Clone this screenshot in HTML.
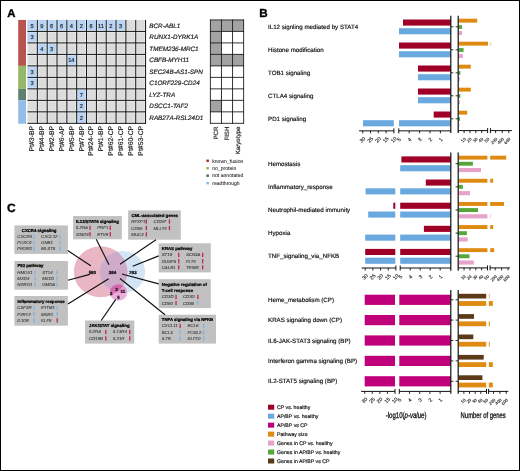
<!DOCTYPE html>
<html><head><meta charset="utf-8"><title>Figure</title>
<style>
html,body{margin:0;padding:0;background:#fff;}
body{width:520px;height:471px;overflow:hidden;position:relative;}
svg{position:absolute;left:0;top:0;display:block;}
svg text{font-family:"Liberation Sans",sans-serif;text-rendering:geometricPrecision;}
.t{stroke:#000;stroke-width:0.22px;}
.ax{stroke:#1a1a1a;stroke-width:0.12px;}
.lb{stroke:#1a1a1a;stroke-width:0.18px;}
.pl{stroke:#000;stroke-width:0.35px;}
.nm{stroke:#2c3648;stroke-width:0.22px;}
.la{stroke:#222;stroke-width:0.07px;}
.g{stroke:#333;stroke-width:0.08px;}
.b{font-weight:bold;}
.i{font-style:italic;}
</style></head><body>
<svg width="520" height="471" viewBox="0 0 520 471">
<rect x="0.00" y="0.00" width="520.00" height="471.00" fill="#fff" />
<defs><filter id="soft" x="0" y="0" width="520" height="471" filterUnits="userSpaceOnUse" color-interpolation-filters="sRGB"><feGaussianBlur stdDeviation="0.38"/></filter></defs>
<g filter="url(#soft)">
<rect x="0.00" y="0.00" width="520.00" height="471.00" fill="#fff" />
<text x="7.20" y="16.90" font-size="11.4" class="b pl" text-anchor="start" fill="#000" >A</text>
<rect x="18.20" y="19.93" width="7.80" height="45.96" fill="#b85450" />
<rect x="18.20" y="65.89" width="7.80" height="22.98" fill="#94b866" />
<rect x="18.20" y="88.87" width="7.80" height="11.49" fill="#5f8070" />
<rect x="18.20" y="100.36" width="7.80" height="23.38" fill="#94bee9" />
<rect x="27.50" y="19.93" width="118.08" height="103.41" fill="#dcdcdc" />
<rect x="27.50" y="19.93" width="9.84" height="11.49" fill="#b9d4f3" />
<rect x="37.34" y="19.93" width="9.84" height="11.49" fill="#b9d4f3" />
<rect x="47.18" y="19.93" width="9.84" height="11.49" fill="#b9d4f3" />
<rect x="57.02" y="19.93" width="9.84" height="11.49" fill="#b9d4f3" />
<rect x="66.86" y="19.93" width="9.84" height="11.49" fill="#b9d4f3" />
<rect x="76.70" y="19.93" width="9.84" height="11.49" fill="#b9d4f3" />
<rect x="86.54" y="19.93" width="9.84" height="11.49" fill="#b9d4f3" />
<rect x="96.38" y="19.93" width="9.84" height="11.49" fill="#b9d4f3" />
<rect x="106.22" y="19.93" width="9.84" height="11.49" fill="#b9d4f3" />
<rect x="116.06" y="19.93" width="9.84" height="11.49" fill="#b9d4f3" />
<rect x="27.50" y="31.42" width="9.84" height="11.49" fill="#b9d4f3" />
<rect x="37.34" y="42.91" width="9.84" height="11.49" fill="#b9d4f3" />
<rect x="47.18" y="42.91" width="9.84" height="11.49" fill="#b9d4f3" />
<rect x="66.86" y="54.40" width="9.84" height="11.49" fill="#b9d4f3" />
<rect x="27.50" y="65.89" width="9.84" height="11.49" fill="#b9d4f3" />
<rect x="27.50" y="77.38" width="9.84" height="11.49" fill="#b9d4f3" />
<rect x="76.70" y="88.87" width="9.84" height="11.49" fill="#b9d4f3" />
<rect x="76.70" y="100.36" width="9.84" height="11.49" fill="#b9d4f3" />
<rect x="76.70" y="111.85" width="9.84" height="11.49" fill="#b9d4f3" />
<line x1="37.34" y1="19.93" x2="37.34" y2="123.34" stroke="#fff" stroke-width="2.6" stroke-opacity="0.42"/>
<line x1="47.18" y1="19.93" x2="47.18" y2="123.34" stroke="#fff" stroke-width="2.6" stroke-opacity="0.42"/>
<line x1="57.02" y1="19.93" x2="57.02" y2="123.34" stroke="#fff" stroke-width="2.6" stroke-opacity="0.42"/>
<line x1="66.86" y1="19.93" x2="66.86" y2="123.34" stroke="#fff" stroke-width="2.6" stroke-opacity="0.42"/>
<line x1="76.70" y1="19.93" x2="76.70" y2="123.34" stroke="#fff" stroke-width="2.6" stroke-opacity="0.42"/>
<line x1="86.54" y1="19.93" x2="86.54" y2="123.34" stroke="#fff" stroke-width="2.6" stroke-opacity="0.42"/>
<line x1="96.38" y1="19.93" x2="96.38" y2="123.34" stroke="#fff" stroke-width="2.6" stroke-opacity="0.42"/>
<line x1="106.22" y1="19.93" x2="106.22" y2="123.34" stroke="#fff" stroke-width="2.6" stroke-opacity="0.42"/>
<line x1="116.06" y1="19.93" x2="116.06" y2="123.34" stroke="#fff" stroke-width="2.6" stroke-opacity="0.42"/>
<line x1="125.90" y1="19.93" x2="125.90" y2="123.34" stroke="#fff" stroke-width="2.6" stroke-opacity="0.42"/>
<line x1="135.74" y1="19.93" x2="135.74" y2="123.34" stroke="#fff" stroke-width="2.6" stroke-opacity="0.42"/>
<line x1="145.58" y1="19.93" x2="145.58" y2="123.34" stroke="#fff" stroke-width="2.6" stroke-opacity="0.42"/>
<line x1="27.50" y1="31.42" x2="145.58" y2="31.42" stroke="#fff" stroke-width="2.6" stroke-opacity="0.42"/>
<line x1="27.50" y1="42.91" x2="145.58" y2="42.91" stroke="#fff" stroke-width="2.6" stroke-opacity="0.42"/>
<line x1="27.50" y1="54.40" x2="145.58" y2="54.40" stroke="#fff" stroke-width="2.6" stroke-opacity="0.42"/>
<line x1="27.50" y1="65.89" x2="145.58" y2="65.89" stroke="#fff" stroke-width="2.6" stroke-opacity="0.42"/>
<line x1="27.50" y1="77.38" x2="145.58" y2="77.38" stroke="#fff" stroke-width="2.6" stroke-opacity="0.42"/>
<line x1="27.50" y1="88.87" x2="145.58" y2="88.87" stroke="#fff" stroke-width="2.6" stroke-opacity="0.42"/>
<line x1="27.50" y1="100.36" x2="145.58" y2="100.36" stroke="#fff" stroke-width="2.6" stroke-opacity="0.42"/>
<line x1="27.50" y1="111.85" x2="145.58" y2="111.85" stroke="#fff" stroke-width="2.6" stroke-opacity="0.42"/>
<line x1="27.50" y1="123.34" x2="145.58" y2="123.34" stroke="#fff" stroke-width="2.6" stroke-opacity="0.42"/>
<line x1="37.34" y1="19.93" x2="37.34" y2="123.74" stroke="#111" stroke-width="1.0" />
<line x1="47.18" y1="19.93" x2="47.18" y2="123.74" stroke="#111" stroke-width="1.0" />
<line x1="57.02" y1="19.93" x2="57.02" y2="123.74" stroke="#111" stroke-width="1.0" />
<line x1="66.86" y1="19.93" x2="66.86" y2="123.74" stroke="#111" stroke-width="1.0" />
<line x1="76.70" y1="19.93" x2="76.70" y2="123.74" stroke="#111" stroke-width="1.0" />
<line x1="86.54" y1="19.93" x2="86.54" y2="123.74" stroke="#111" stroke-width="1.0" />
<line x1="96.38" y1="19.93" x2="96.38" y2="123.74" stroke="#111" stroke-width="1.0" />
<line x1="106.22" y1="19.93" x2="106.22" y2="123.74" stroke="#111" stroke-width="1.0" />
<line x1="116.06" y1="19.93" x2="116.06" y2="123.74" stroke="#111" stroke-width="1.0" />
<line x1="125.90" y1="19.93" x2="125.90" y2="123.74" stroke="#111" stroke-width="1.0" />
<line x1="135.74" y1="19.93" x2="135.74" y2="123.74" stroke="#111" stroke-width="1.0" />
<line x1="145.58" y1="19.93" x2="145.58" y2="123.74" stroke="#111" stroke-width="1.0" />
<line x1="27.50" y1="31.42" x2="145.98" y2="31.42" stroke="#111" stroke-width="1.0" />
<line x1="27.50" y1="42.91" x2="145.98" y2="42.91" stroke="#111" stroke-width="1.0" />
<line x1="27.50" y1="54.40" x2="145.98" y2="54.40" stroke="#111" stroke-width="1.0" />
<line x1="27.50" y1="65.89" x2="145.98" y2="65.89" stroke="#111" stroke-width="1.0" />
<line x1="27.50" y1="77.38" x2="145.98" y2="77.38" stroke="#111" stroke-width="1.0" />
<line x1="27.50" y1="88.87" x2="145.98" y2="88.87" stroke="#111" stroke-width="1.0" />
<line x1="27.50" y1="100.36" x2="145.98" y2="100.36" stroke="#111" stroke-width="1.0" />
<line x1="27.50" y1="111.85" x2="145.98" y2="111.85" stroke="#111" stroke-width="1.0" />
<line x1="27.50" y1="123.34" x2="145.98" y2="123.34" stroke="#111" stroke-width="1.0" />
<text x="32.02" y="27.57" font-size="5.7" class="nm" text-anchor="middle" fill="#2c3648" >5</text>
<text x="41.86" y="27.57" font-size="5.7" class="nm" text-anchor="middle" fill="#2c3648" >9</text>
<text x="51.70" y="27.57" font-size="5.7" class="nm" text-anchor="middle" fill="#2c3648" >6</text>
<text x="61.54" y="27.57" font-size="5.7" class="nm" text-anchor="middle" fill="#2c3648" >6</text>
<text x="71.38" y="27.57" font-size="5.7" class="nm" text-anchor="middle" fill="#2c3648" >4</text>
<text x="81.22" y="27.57" font-size="5.7" class="nm" text-anchor="middle" fill="#2c3648" >2</text>
<text x="91.06" y="27.57" font-size="5.7" class="nm" text-anchor="middle" fill="#2c3648" >6</text>
<text x="100.90" y="27.57" font-size="5.7" class="nm" text-anchor="middle" fill="#2c3648" >11</text>
<text x="110.74" y="27.57" font-size="5.7" class="nm" text-anchor="middle" fill="#2c3648" >2</text>
<text x="120.58" y="27.57" font-size="5.7" class="nm" text-anchor="middle" fill="#2c3648" >3</text>
<text x="32.02" y="39.06" font-size="5.7" class="nm" text-anchor="middle" fill="#2c3648" >3</text>
<text x="41.86" y="50.55" font-size="5.7" class="nm" text-anchor="middle" fill="#2c3648" >4</text>
<text x="51.70" y="50.55" font-size="5.7" class="nm" text-anchor="middle" fill="#2c3648" >3</text>
<text x="71.38" y="62.04" font-size="5.7" class="nm" text-anchor="middle" fill="#2c3648" >14</text>
<text x="32.02" y="73.54" font-size="5.7" class="nm" text-anchor="middle" fill="#2c3648" >3</text>
<text x="32.02" y="85.03" font-size="5.7" class="nm" text-anchor="middle" fill="#2c3648" >3</text>
<text x="81.22" y="96.52" font-size="5.7" class="nm" text-anchor="middle" fill="#2c3648" >7</text>
<text x="81.22" y="108.01" font-size="5.7" class="nm" text-anchor="middle" fill="#2c3648" >2</text>
<text x="81.22" y="119.50" font-size="5.7" class="nm" text-anchor="middle" fill="#2c3648" >2</text>
<text x="149.30" y="27.78" font-size="6.35" class="i lb" text-anchor="start" fill="#1a1a1a" >BCR-ABL1</text>
<text x="149.30" y="39.27" font-size="6.35" class="i lb" text-anchor="start" fill="#1a1a1a" >RUNX1-DYRK1A</text>
<text x="149.30" y="50.75" font-size="6.35" class="i lb" text-anchor="start" fill="#1a1a1a" >TMEM236-MRC1</text>
<text x="149.30" y="62.24" font-size="6.35" class="i lb" text-anchor="start" fill="#1a1a1a" >CBFB-MYH11</text>
<text x="149.30" y="73.73" font-size="6.35" class="i lb" text-anchor="start" fill="#1a1a1a" >SEC24B-AS1-SPN</text>
<text x="149.30" y="85.22" font-size="6.35" class="i lb" text-anchor="start" fill="#1a1a1a" >C1ORF229-CD24</text>
<text x="149.30" y="96.72" font-size="6.35" class="i lb" text-anchor="start" fill="#1a1a1a" >LYZ-TRA</text>
<text x="149.30" y="108.21" font-size="6.35" class="i lb" text-anchor="start" fill="#1a1a1a" >DSCC1-TAF2</text>
<text x="149.30" y="119.69" font-size="6.35" class="i lb" text-anchor="start" fill="#1a1a1a" >RAB27A-RSL24D1</text>
<text transform="translate(34.42,125.80) rotate(-90)" font-size="6.9" class="lb" text-anchor="end" fill="#2a2a2a">Pt#3-BP</text>
<text transform="translate(44.26,125.80) rotate(-90)" font-size="6.9" class="lb" text-anchor="end" fill="#2a2a2a">Pt#4-BP</text>
<text transform="translate(54.10,125.80) rotate(-90)" font-size="6.9" class="lb" text-anchor="end" fill="#2a2a2a">Pt#2-BP</text>
<text transform="translate(63.94,125.80) rotate(-90)" font-size="6.9" class="lb" text-anchor="end" fill="#2a2a2a">Pt#6-AP</text>
<text transform="translate(73.78,125.80) rotate(-90)" font-size="6.9" class="lb" text-anchor="end" fill="#2a2a2a">Pt#5-BP</text>
<text transform="translate(83.62,125.80) rotate(-90)" font-size="6.9" class="lb" text-anchor="end" fill="#2a2a2a">Pt#7-BP</text>
<text transform="translate(93.46,125.80) rotate(-90)" font-size="6.9" class="lb" text-anchor="end" fill="#2a2a2a">Pt#24-CP</text>
<text transform="translate(103.30,125.80) rotate(-90)" font-size="6.9" class="lb" text-anchor="end" fill="#2a2a2a">Pt#1-BP</text>
<text transform="translate(113.14,125.80) rotate(-90)" font-size="6.9" class="lb" text-anchor="end" fill="#2a2a2a">Pt#62-CP</text>
<text transform="translate(122.98,125.80) rotate(-90)" font-size="6.9" class="lb" text-anchor="end" fill="#2a2a2a">Pt#61-CP</text>
<text transform="translate(132.82,125.80) rotate(-90)" font-size="6.9" class="lb" text-anchor="end" fill="#2a2a2a">Pt#60-CP</text>
<text transform="translate(142.66,125.80) rotate(-90)" font-size="6.9" class="lb" text-anchor="end" fill="#2a2a2a">Pt#53-CP</text>
<rect x="210.40" y="19.93" width="11.07" height="11.49" fill="#a3a3a3" />
<rect x="221.47" y="19.93" width="11.07" height="11.49" fill="#a3a3a3" />
<rect x="232.54" y="19.93" width="11.07" height="11.49" fill="#a3a3a3" />
<rect x="210.40" y="31.42" width="11.07" height="11.49" fill="#a3a3a3" />
<rect x="210.40" y="42.91" width="11.07" height="11.49" fill="#a3a3a3" />
<rect x="210.40" y="54.40" width="11.07" height="11.49" fill="#a3a3a3" />
<rect x="221.47" y="54.40" width="11.07" height="11.49" fill="#a3a3a3" />
<rect x="232.54" y="54.40" width="11.07" height="11.49" fill="#a3a3a3" />
<rect x="210.40" y="100.36" width="11.07" height="11.49" fill="#a3a3a3" />
<line x1="210.40" y1="19.53" x2="210.40" y2="123.74" stroke="#111" stroke-width="0.85" />
<line x1="221.47" y1="19.53" x2="221.47" y2="123.74" stroke="#111" stroke-width="0.85" />
<line x1="232.54" y1="19.53" x2="232.54" y2="123.74" stroke="#111" stroke-width="0.85" />
<line x1="243.61" y1="19.53" x2="243.61" y2="123.74" stroke="#111" stroke-width="0.85" />
<line x1="210.00" y1="19.93" x2="244.01" y2="19.93" stroke="#111" stroke-width="0.85" />
<line x1="210.00" y1="31.42" x2="244.01" y2="31.42" stroke="#111" stroke-width="0.85" />
<line x1="210.00" y1="42.91" x2="244.01" y2="42.91" stroke="#111" stroke-width="0.85" />
<line x1="210.00" y1="54.40" x2="244.01" y2="54.40" stroke="#111" stroke-width="0.85" />
<line x1="210.00" y1="65.89" x2="244.01" y2="65.89" stroke="#111" stroke-width="0.85" />
<line x1="210.00" y1="77.38" x2="244.01" y2="77.38" stroke="#111" stroke-width="0.85" />
<line x1="210.00" y1="88.87" x2="244.01" y2="88.87" stroke="#111" stroke-width="0.85" />
<line x1="210.00" y1="100.36" x2="244.01" y2="100.36" stroke="#111" stroke-width="0.85" />
<line x1="210.00" y1="111.85" x2="244.01" y2="111.85" stroke="#111" stroke-width="0.85" />
<line x1="210.00" y1="123.34" x2="244.01" y2="123.34" stroke="#111" stroke-width="0.85" />
<text transform="translate(217.94,126.60) rotate(-90)" font-size="6.15" class="lb" text-anchor="end" fill="#2a2a2a">PCR</text>
<text transform="translate(229.00,126.60) rotate(-90)" font-size="6.15" class="lb" text-anchor="end" fill="#2a2a2a">FISH</text>
<text transform="translate(240.08,126.60) rotate(-90)" font-size="6.15" class="lb" text-anchor="end" fill="#2a2a2a">Karyotype</text>
<rect x="206.40" y="159.60" width="2.50" height="2.40" fill="#b02a30" />
<text x="212.20" y="162.50" font-size="5.1" class="la" text-anchor="start" fill="#222" >known_fusion</text>
<rect x="206.40" y="167.05" width="2.50" height="2.40" fill="#86b84c" />
<text x="212.20" y="169.95" font-size="5.1" class="la" text-anchor="start" fill="#222" >no_protein</text>
<rect x="206.40" y="174.50" width="2.50" height="2.40" fill="#3f6a52" />
<text x="212.20" y="177.40" font-size="5.1" class="la" text-anchor="start" fill="#222" >not annotated</text>
<rect x="206.40" y="181.95" width="2.50" height="2.40" fill="#86bdf0" />
<text x="212.20" y="184.85" font-size="5.1" class="la" text-anchor="start" fill="#222" >readthrough</text>
<text x="7.10" y="211.50" font-size="12.0" class="b pl" text-anchor="start" fill="#000" >C</text>
<ellipse cx="100.65" cy="271.7" rx="26.85" ry="25.5" fill="#e9b7c4"/>
<ellipse cx="122.3" cy="272.05" rx="22.9" ry="21.05" fill="#d3e4f5"/>
<clipPath id="cpB"><ellipse cx="122.3" cy="272.05" rx="22.9" ry="21.05"/></clipPath>
<clipPath id="cpP"><ellipse cx="100.65" cy="271.7" rx="26.85" ry="25.5"/></clipPath>
<ellipse cx="100.65" cy="271.7" rx="26.85" ry="25.5" fill="#cdabc9" clip-path="url(#cpB)"/>
<ellipse cx="118.45" cy="292.55" rx="8.75" ry="8.15" fill="#eeaedb"/>
<ellipse cx="118.45" cy="292.55" rx="8.75" ry="8.15" fill="#e79ccf" clip-path="url(#cpB)"/>
<ellipse cx="118.45" cy="292.55" rx="8.75" ry="8.15" fill="#e182bd" clip-path="url(#cpP)"/>
<g clip-path="url(#cpP)"><ellipse cx="118.45" cy="292.55" rx="8.75" ry="8.15" fill="#d266ac" clip-path="url(#cpB)"/></g>
<rect x="14.40" y="225.40" width="53.50" height="28.50" fill="#c1c1c1" />
<text x="21.80" y="231.90" font-size="4.3" class="b t" text-anchor="start" fill="#000" >CXCR4 signaling</text>
<text x="17.30" y="238.35" font-size="4.35" class="i g" text-anchor="start" fill="#333" >CXCR4</text>
<rect x="33.30" y="234.70" width="1.30" height="4.30" fill="#7db4e6" />
<text x="41.10" y="238.35" font-size="4.35" class="i g" text-anchor="start" fill="#333" >CXCL12</text>
<rect x="59.30" y="234.70" width="1.30" height="4.30" fill="#7db4e6" />
<text x="17.30" y="244.45" font-size="4.35" class="i g" text-anchor="start" fill="#333" >FOXO1</text>
<rect x="33.30" y="240.80" width="1.30" height="4.30" fill="#7db4e6" />
<text x="41.10" y="244.45" font-size="4.35" class="i g" text-anchor="start" fill="#333" >GNB1</text>
<rect x="59.30" y="240.80" width="1.30" height="4.30" fill="#7db4e6" />
<text x="17.30" y="250.45" font-size="4.35" class="i g" text-anchor="start" fill="#333" >PIK3R1</text>
<rect x="33.30" y="246.80" width="1.30" height="4.30" fill="#7db4e6" />
<text x="41.10" y="250.45" font-size="4.35" class="i g" text-anchor="start" fill="#333" >MLST8</text>
<rect x="59.30" y="246.80" width="1.30" height="4.30" fill="#7db4e6" />
<rect x="14.40" y="261.00" width="53.50" height="28.70" fill="#c1c1c1" />
<text x="17.40" y="267.30" font-size="4.3" class="b t" text-anchor="start" fill="#000" >P53 pathway</text>
<text x="17.30" y="273.75" font-size="4.35" class="i g" text-anchor="start" fill="#333" >HMOX1</text>
<rect x="34.40" y="270.10" width="1.30" height="4.30" fill="#7db4e6" />
<text x="42.20" y="273.75" font-size="4.35" class="i g" text-anchor="start" fill="#333" >ST14</text>
<rect x="56.50" y="270.10" width="1.30" height="4.30" fill="#7db4e6" />
<text x="17.30" y="280.05" font-size="4.35" class="i g" text-anchor="start" fill="#333" >MXD4</text>
<rect x="34.40" y="276.40" width="1.30" height="4.30" fill="#7db4e6" />
<text x="42.20" y="280.05" font-size="4.35" class="i g" text-anchor="start" fill="#333" >MXD1</text>
<rect x="56.50" y="276.40" width="1.30" height="4.30" fill="#7db4e6" />
<text x="17.30" y="286.15" font-size="4.35" class="i g" text-anchor="start" fill="#333" >NDRG1</text>
<rect x="34.40" y="282.50" width="1.30" height="4.30" fill="#7db4e6" />
<text x="42.20" y="286.15" font-size="4.35" class="i g" text-anchor="start" fill="#333" >GMDA</text>
<rect x="56.50" y="282.50" width="1.30" height="4.30" fill="#7db4e6" />
<rect x="14.40" y="296.00" width="53.50" height="29.70" fill="#c1c1c1" />
<text x="17.40" y="303.20" font-size="4.3" class="b t" text-anchor="start" fill="#000" >Inflammatory response</text>
<text x="17.30" y="309.35" font-size="4.35" class="i g" text-anchor="start" fill="#333" >CSF3R</text>
<rect x="33.30" y="305.70" width="1.30" height="4.30" fill="#7db4e6" />
<text x="41.10" y="309.35" font-size="4.35" class="i g" text-anchor="start" fill="#333" >IFITM1</text>
<rect x="56.50" y="305.70" width="1.30" height="4.30" fill="#7db4e6" />
<text x="17.30" y="315.55" font-size="4.35" class="i g" text-anchor="start" fill="#333" >P2RY2</text>
<rect x="33.30" y="311.90" width="1.30" height="4.30" fill="#7db4e6" />
<text x="41.10" y="315.55" font-size="4.35" class="i g" text-anchor="start" fill="#333" >MSR1</text>
<rect x="56.50" y="311.90" width="1.30" height="4.30" fill="#7db4e6" />
<text x="17.30" y="321.85" font-size="4.35" class="i g" text-anchor="start" fill="#333" >IL10R</text>
<rect x="33.30" y="318.20" width="1.30" height="4.30" fill="#7db4e6" />
<text x="41.10" y="321.85" font-size="4.35" class="i g" text-anchor="start" fill="#333" >KLF6</text>
<rect x="56.50" y="318.20" width="1.30" height="4.30" fill="#c22a4a" />
<rect x="73.10" y="216.00" width="48.70" height="23.30" fill="#c1c1c1" />
<text x="76.00" y="222.90" font-size="4.3" class="b t" text-anchor="start" fill="#000" >IL12/STAT4 signaling</text>
<text x="75.90" y="229.35" font-size="4.35" class="i g" text-anchor="start" fill="#333" >IL2RA</text>
<rect x="89.40" y="225.70" width="1.30" height="4.30" fill="#c22a4a" />
<text x="97.20" y="229.35" font-size="4.35" class="i g" text-anchor="start" fill="#333" >PRF1</text>
<rect x="109.60" y="225.70" width="1.30" height="4.30" fill="#c22a4a" />
<text x="75.90" y="235.75" font-size="4.35" class="i g" text-anchor="start" fill="#333" >STAT4</text>
<rect x="89.40" y="232.10" width="1.30" height="4.30" fill="#c22a4a" />
<text x="97.20" y="235.75" font-size="4.35" class="i g" text-anchor="start" fill="#333" >ETV5</text>
<rect x="109.60" y="232.10" width="1.30" height="4.30" fill="#c22a4a" />
<rect x="128.10" y="210.40" width="52.70" height="29.30" fill="#c1c1c1" />
<text x="131.40" y="217.20" font-size="4.3" class="b t" text-anchor="start" fill="#000" >CML-associated genes</text>
<text x="131.30" y="223.05" font-size="4.35" class="i g" text-anchor="start" fill="#333" >RFXP1</text>
<rect x="145.70" y="219.40" width="1.30" height="4.30" fill="#c22a4a" />
<text x="153.50" y="223.05" font-size="4.35" class="i g" text-anchor="start" fill="#333" >CD26*</text>
<rect x="168.80" y="219.40" width="1.30" height="4.30" fill="#c22a4a" />
<text x="131.30" y="229.55" font-size="4.35" class="i g" text-anchor="start" fill="#333" >CD69</text>
<rect x="145.70" y="225.90" width="1.30" height="4.30" fill="#c22a4a" />
<text x="153.50" y="229.55" font-size="4.35" class="i g" text-anchor="start" fill="#333" >MLLT4</text>
<rect x="168.80" y="225.90" width="1.30" height="4.30" fill="#c22a4a" />
<text x="131.30" y="235.85" font-size="4.35" class="i g" text-anchor="start" fill="#333" >MUC4</text>
<rect x="145.70" y="232.20" width="1.30" height="4.30" fill="#c22a4a" />
<rect x="158.70" y="243.30" width="52.10" height="29.10" fill="#c1c1c1" />
<text x="161.80" y="250.00" font-size="4.3" class="b t" text-anchor="start" fill="#000" >KRAS pathway</text>
<text x="161.70" y="256.45" font-size="4.35" class="i g" text-anchor="start" fill="#333" >ST18</text>
<rect x="178.10" y="252.80" width="1.30" height="4.30" fill="#c22a4a" />
<text x="185.90" y="256.45" font-size="4.35" class="i g" text-anchor="start" fill="#333" >SCN3A</text>
<rect x="202.00" y="252.80" width="1.30" height="4.30" fill="#c22a4a" />
<text x="161.70" y="262.75" font-size="4.35" class="i g" text-anchor="start" fill="#333" >DUSP6</text>
<rect x="178.10" y="259.10" width="1.30" height="4.30" fill="#c22a4a" />
<text x="185.90" y="262.75" font-size="4.35" class="i g" text-anchor="start" fill="#333" >FLT4</text>
<rect x="202.00" y="259.10" width="1.30" height="4.30" fill="#c22a4a" />
<text x="161.70" y="268.85" font-size="4.35" class="i g" text-anchor="start" fill="#333" >CALB1</text>
<rect x="178.10" y="265.20" width="1.30" height="4.30" fill="#c22a4a" />
<text x="185.90" y="268.85" font-size="4.35" class="i g" text-anchor="start" fill="#333" >TRIM2</text>
<rect x="202.00" y="265.20" width="1.30" height="4.30" fill="#c22a4a" />
<rect x="158.70" y="279.20" width="52.10" height="28.90" fill="#c1c1c1" />
<text x="161.80" y="285.60" font-size="4.3" class="b t" text-anchor="start" fill="#000" >Negative regulation of</text>
<text x="161.80" y="292.10" font-size="4.3" class="b t" text-anchor="start" fill="#000" >T-cell response</text>
<text x="161.70" y="298.45" font-size="4.35" class="i g" text-anchor="start" fill="#333" >CD3D</text>
<rect x="175.40" y="294.80" width="1.30" height="4.30" fill="#c22a4a" />
<text x="182.90" y="298.45" font-size="4.35" class="i g" text-anchor="start" fill="#333" >CD3G</text>
<rect x="197.20" y="294.80" width="1.30" height="4.30" fill="#c22a4a" />
<text x="161.70" y="304.55" font-size="4.35" class="i g" text-anchor="start" fill="#333" >CD80</text>
<rect x="175.40" y="300.90" width="1.30" height="4.30" fill="#c22a4a" />
<text x="182.90" y="304.55" font-size="4.35" class="i g" text-anchor="start" fill="#333" >CD86</text>
<rect x="197.20" y="300.90" width="1.30" height="4.30" fill="#7db4e6" />
<rect x="158.70" y="314.70" width="57.30" height="28.90" fill="#c1c1c1" />
<text x="161.80" y="321.30" font-size="4.3" class="b t" text-anchor="start" fill="#000" >TNFA signaling via NFKB</text>
<text x="161.70" y="327.45" font-size="4.35" class="i g" text-anchor="start" fill="#333" >CXCL11</text>
<rect x="179.50" y="323.80" width="1.30" height="4.30" fill="#c22a4a" />
<text x="187.60" y="327.45" font-size="4.35" class="i g" text-anchor="start" fill="#333" >BCL6</text>
<rect x="203.00" y="323.80" width="1.30" height="4.30" fill="#7db4e6" />
<text x="161.70" y="333.85" font-size="4.35" class="i g" text-anchor="start" fill="#333" >BCL3</text>
<rect x="179.50" y="330.20" width="1.30" height="4.30" fill="#7db4e6" />
<text x="187.60" y="333.85" font-size="4.35" class="i g" text-anchor="start" fill="#333" >FOSL2</text>
<rect x="203.00" y="330.20" width="1.30" height="4.30" fill="#7db4e6" />
<text x="161.70" y="339.95" font-size="4.35" class="i g" text-anchor="start" fill="#333" >IL7R</text>
<rect x="179.50" y="336.30" width="1.30" height="4.30" fill="#7db4e6" />
<text x="187.60" y="339.95" font-size="4.35" class="i g" text-anchor="start" fill="#333" >KLF10</text>
<rect x="203.00" y="336.30" width="1.30" height="4.30" fill="#7db4e6" />
<rect x="85.10" y="320.50" width="49.20" height="23.10" fill="#c1c1c1" />
<text x="89.10" y="327.40" font-size="4.3" class="b t" text-anchor="start" fill="#000" >JAK/STAT signaling</text>
<text x="89.00" y="333.45" font-size="4.35" class="i g" text-anchor="start" fill="#333" >IL2RA</text>
<rect x="105.10" y="329.80" width="1.30" height="4.30" fill="#c22a4a" />
<text x="112.90" y="333.45" font-size="4.35" class="i g" text-anchor="start" fill="#333" >IL13R4</text>
<rect x="129.10" y="329.80" width="1.30" height="4.30" fill="#c22a4a" />
<text x="89.00" y="339.85" font-size="4.35" class="i g" text-anchor="start" fill="#333" >CD19B</text>
<rect x="105.10" y="336.20" width="1.30" height="4.30" fill="#c22a4a" />
<text x="112.90" y="339.85" font-size="4.35" class="i g" text-anchor="start" fill="#333" >IL21R</text>
<rect x="129.10" y="336.20" width="1.30" height="4.30" fill="#c22a4a" />
<line x1="67.70" y1="250.60" x2="90.80" y2="265.80" stroke="#111" stroke-width="1.15" />
<line x1="96.30" y1="239.30" x2="109.00" y2="264.80" stroke="#111" stroke-width="1.15" />
<line x1="156.00" y1="239.70" x2="120.00" y2="264.20" stroke="#111" stroke-width="1.15" />
<line x1="158.70" y1="255.90" x2="132.70" y2="266.30" stroke="#111" stroke-width="1.15" />
<line x1="158.70" y1="283.90" x2="121.90" y2="274.00" stroke="#111" stroke-width="1.15" />
<line x1="165.00" y1="314.70" x2="120.00" y2="278.50" stroke="#111" stroke-width="1.15" />
<line x1="67.90" y1="280.20" x2="89.80" y2="274.40" stroke="#111" stroke-width="1.15" />
<line x1="67.90" y1="304.10" x2="108.70" y2="278.80" stroke="#111" stroke-width="1.15" />
<line x1="101.20" y1="320.50" x2="115.80" y2="299.40" stroke="#111" stroke-width="1.15" />
<text x="92.30" y="274.00" font-size="4.4" class="b t" text-anchor="middle" fill="#111" >580</text>
<text x="112.50" y="274.00" font-size="4.4" class="b t" text-anchor="middle" fill="#111" >364</text>
<text x="133.00" y="274.00" font-size="4.4" class="b t" text-anchor="middle" fill="#111" >293</text>
<text x="116.70" y="290.60" font-size="4.4" class="b t" text-anchor="middle" fill="#111" >2</text>
<text x="111.20" y="295.10" font-size="4.4" class="b t" text-anchor="middle" fill="#111" >3</text>
<text x="122.90" y="293.40" font-size="4.4" class="b t" text-anchor="middle" fill="#111" >11</text>
<text x="118.50" y="299.00" font-size="4.4" class="b t" text-anchor="middle" fill="#111" >5</text>
<text x="259.20" y="17.10" font-size="11.7" class="b pl" text-anchor="start" fill="#000" >B</text>
<text x="268.00" y="28.90" font-size="6.2" class="lb" text-anchor="start" fill="#111" >IL12 signling mediated by STAT4</text>
<text x="268.00" y="52.10" font-size="6.2" class="lb" text-anchor="start" fill="#111" >Histone modification</text>
<text x="268.00" y="75.20" font-size="6.2" class="lb" text-anchor="start" fill="#111" >TOB1 signaling</text>
<text x="268.00" y="98.40" font-size="6.2" class="lb" text-anchor="start" fill="#111" >CTLA4 signaling</text>
<text x="268.00" y="121.30" font-size="6.2" class="lb" text-anchor="start" fill="#111" >PD1 signaling</text>
<rect x="403.00" y="19.50" width="47.80" height="6.10" fill="#9f0027" />
<rect x="399.00" y="28.20" width="51.80" height="6.10" fill="#6aa9df" />
<rect x="398.80" y="28.20" width="-5.00" height="6.10" fill="#6aa9df" />
<rect x="399.00" y="42.50" width="51.80" height="6.10" fill="#9f0027" />
<rect x="398.80" y="42.50" width="-5.00" height="6.10" fill="#9f0027" />
<rect x="399.00" y="51.20" width="51.80" height="6.10" fill="#6aa9df" />
<rect x="398.80" y="51.20" width="-5.00" height="6.10" fill="#6aa9df" />
<rect x="418.00" y="65.50" width="32.80" height="6.10" fill="#9f0027" />
<rect x="418.00" y="74.20" width="32.80" height="6.10" fill="#6aa9df" />
<rect x="418.00" y="88.50" width="32.80" height="6.10" fill="#9f0027" />
<rect x="418.00" y="97.20" width="32.80" height="6.10" fill="#6aa9df" />
<rect x="433.70" y="111.50" width="17.10" height="6.10" fill="#9f0027" />
<rect x="399.00" y="120.20" width="51.80" height="6.10" fill="#6aa9df" />
<rect x="363.00" y="120.20" width="30.80" height="6.10" fill="#6aa9df" />
<rect x="458.60" y="18.70" width="18.60" height="3.90" fill="#df8a10" />
<rect x="458.60" y="25.10" width="3.40" height="3.80" fill="#57a63a" />
<rect x="458.60" y="31.10" width="3.40" height="3.90" fill="#e6a2c8" />
<rect x="458.60" y="41.70" width="29.40" height="3.90" fill="#df8a10" />
<rect x="458.60" y="48.10" width="5.00" height="3.80" fill="#57a63a" />
<rect x="458.60" y="54.10" width="4.30" height="3.90" fill="#e6a2c8" />
<rect x="458.60" y="64.70" width="12.20" height="3.90" fill="#df8a10" />
<rect x="458.60" y="71.10" width="1.70" height="3.80" fill="#57a63a" />
<rect x="458.60" y="77.10" width="1.20" height="3.90" fill="#e6a2c8" />
<rect x="458.60" y="87.70" width="12.20" height="3.90" fill="#df8a10" />
<rect x="458.60" y="94.10" width="1.70" height="3.80" fill="#57a63a" />
<rect x="458.60" y="100.10" width="1.20" height="3.90" fill="#e6a2c8" />
<rect x="458.60" y="110.70" width="8.60" height="3.90" fill="#df8a10" />
<rect x="458.60" y="117.10" width="1.40" height="3.80" fill="#57a63a" />
<rect x="458.60" y="123.10" width="0.70" height="3.90" fill="#e6a2c8" />
<rect x="490.20" y="41.90" width="1.20" height="3.80" fill="#f3cf98" />
<line x1="359.10" y1="130.85" x2="393.90" y2="130.85" stroke="#111" stroke-width="1.0" />
<line x1="398.80" y1="130.85" x2="450.80" y2="130.85" stroke="#111" stroke-width="1.0" />
<line x1="362.70" y1="130.85" x2="362.70" y2="133.35" stroke="#111" stroke-width="0.9" />
<line x1="370.50" y1="130.85" x2="370.50" y2="133.35" stroke="#111" stroke-width="0.9" />
<line x1="378.30" y1="130.85" x2="378.30" y2="133.35" stroke="#111" stroke-width="0.9" />
<line x1="386.10" y1="130.85" x2="386.10" y2="133.35" stroke="#111" stroke-width="0.9" />
<line x1="393.90" y1="128.35" x2="393.90" y2="133.35" stroke="#111" stroke-width="1.0" />
<line x1="398.80" y1="128.35" x2="398.80" y2="133.35" stroke="#111" stroke-width="1.0" />
<line x1="409.20" y1="130.85" x2="409.20" y2="133.35" stroke="#111" stroke-width="0.9" />
<line x1="419.60" y1="130.85" x2="419.60" y2="133.35" stroke="#111" stroke-width="0.9" />
<line x1="430.00" y1="130.85" x2="430.00" y2="133.35" stroke="#111" stroke-width="0.9" />
<line x1="440.40" y1="130.85" x2="440.40" y2="133.35" stroke="#111" stroke-width="0.9" />
<line x1="450.80" y1="15.70" x2="450.80" y2="133.00" stroke="#111" stroke-width="1.2" />
<line x1="458.20" y1="15.70" x2="458.20" y2="133.00" stroke="#111" stroke-width="1.2" />
<text transform="translate(362.40,139.65) rotate(-45)" font-size="5.1" text-anchor="middle" dy="1.84" fill="#1a1a1a" class="ax">30</text>
<text transform="translate(370.20,139.65) rotate(-45)" font-size="5.1" text-anchor="middle" dy="1.84" fill="#1a1a1a" class="ax">25</text>
<text transform="translate(378.00,139.65) rotate(-45)" font-size="5.1" text-anchor="middle" dy="1.84" fill="#1a1a1a" class="ax">20</text>
<text transform="translate(385.80,139.65) rotate(-45)" font-size="5.1" text-anchor="middle" dy="1.84" fill="#1a1a1a" class="ax">15</text>
<text transform="translate(393.60,139.65) rotate(-45)" font-size="5.1" text-anchor="middle" dy="1.84" fill="#1a1a1a" class="ax">10</text>
<text transform="translate(399.00,139.45) rotate(-45)" font-size="5.1" text-anchor="middle" dy="1.84" fill="#1a1a1a" class="ax">5</text>
<text transform="translate(409.40,139.45) rotate(-45)" font-size="5.1" text-anchor="middle" dy="1.84" fill="#1a1a1a" class="ax">4</text>
<text transform="translate(419.80,139.45) rotate(-45)" font-size="5.1" text-anchor="middle" dy="1.84" fill="#1a1a1a" class="ax">3</text>
<text transform="translate(430.20,139.45) rotate(-45)" font-size="5.1" text-anchor="middle" dy="1.84" fill="#1a1a1a" class="ax">2</text>
<text transform="translate(440.60,139.45) rotate(-45)" font-size="5.1" text-anchor="middle" dy="1.84" fill="#1a1a1a" class="ax">1</text>
<line x1="458.20" y1="130.60" x2="487.60" y2="130.60" stroke="#111" stroke-width="1.0" />
<line x1="490.40" y1="130.60" x2="511.90" y2="130.60" stroke="#111" stroke-width="1.0" />
<line x1="464.08" y1="130.60" x2="464.08" y2="133.10" stroke="#111" stroke-width="0.9" />
<line x1="469.96" y1="130.60" x2="469.96" y2="133.10" stroke="#111" stroke-width="0.9" />
<line x1="475.84" y1="130.60" x2="475.84" y2="133.10" stroke="#111" stroke-width="0.9" />
<line x1="481.72" y1="130.60" x2="481.72" y2="133.10" stroke="#111" stroke-width="0.9" />
<line x1="487.60" y1="128.10" x2="487.60" y2="133.10" stroke="#111" stroke-width="1.0" />
<line x1="490.40" y1="128.10" x2="490.40" y2="133.10" stroke="#111" stroke-width="1.0" />
<line x1="495.60" y1="130.60" x2="495.60" y2="133.10" stroke="#111" stroke-width="0.9" />
<line x1="502.20" y1="130.60" x2="502.20" y2="133.10" stroke="#111" stroke-width="0.9" />
<line x1="508.80" y1="130.60" x2="508.80" y2="133.10" stroke="#111" stroke-width="0.9" />
<text transform="translate(464.98,138.30) rotate(-45)" font-size="4.3" text-anchor="end" dy="1.55" fill="#1a1a1a" class="ax">10</text>
<text transform="translate(470.86,138.30) rotate(-45)" font-size="4.3" text-anchor="end" dy="1.55" fill="#1a1a1a" class="ax">20</text>
<text transform="translate(476.74,138.30) rotate(-45)" font-size="4.3" text-anchor="end" dy="1.55" fill="#1a1a1a" class="ax">30</text>
<text transform="translate(482.62,138.30) rotate(-45)" font-size="4.3" text-anchor="end" dy="1.55" fill="#1a1a1a" class="ax">40</text>
<text transform="translate(488.50,138.30) rotate(-45)" font-size="4.3" text-anchor="end" dy="1.55" fill="#1a1a1a" class="ax">50</text>
<text transform="translate(496.50,138.30) rotate(-45)" font-size="4.3" text-anchor="end" dy="1.55" fill="#1a1a1a" class="ax">200</text>
<text transform="translate(503.10,138.30) rotate(-45)" font-size="4.3" text-anchor="end" dy="1.55" fill="#1a1a1a" class="ax">400</text>
<text transform="translate(509.70,138.30) rotate(-45)" font-size="4.3" text-anchor="end" dy="1.55" fill="#1a1a1a" class="ax">600</text>
<line x1="450.80" y1="26.80" x2="453.40" y2="26.80" stroke="#111" stroke-width="0.85" />
<line x1="455.60" y1="26.80" x2="458.20" y2="26.80" stroke="#111" stroke-width="0.85" />
<line x1="450.80" y1="49.80" x2="453.40" y2="49.80" stroke="#111" stroke-width="0.85" />
<line x1="455.60" y1="49.80" x2="458.20" y2="49.80" stroke="#111" stroke-width="0.85" />
<line x1="450.80" y1="72.80" x2="453.40" y2="72.80" stroke="#111" stroke-width="0.85" />
<line x1="455.60" y1="72.80" x2="458.20" y2="72.80" stroke="#111" stroke-width="0.85" />
<line x1="450.80" y1="95.80" x2="453.40" y2="95.80" stroke="#111" stroke-width="0.85" />
<line x1="455.60" y1="95.80" x2="458.20" y2="95.80" stroke="#111" stroke-width="0.85" />
<line x1="450.80" y1="118.80" x2="453.40" y2="118.80" stroke="#111" stroke-width="0.85" />
<line x1="455.60" y1="118.80" x2="458.20" y2="118.80" stroke="#111" stroke-width="0.85" />
<text x="268.00" y="165.80" font-size="6.2" class="lb" text-anchor="start" fill="#111" >Hemostasis</text>
<text x="268.00" y="188.90" font-size="6.2" class="lb" text-anchor="start" fill="#111" >Inflammatory_response</text>
<text x="268.00" y="212.10" font-size="6.2" class="lb" text-anchor="start" fill="#111" >Neutrophil-mediated immunity</text>
<text x="268.00" y="235.20" font-size="6.2" class="lb" text-anchor="start" fill="#111" >Hypoxia</text>
<text x="268.00" y="258.30" font-size="6.2" class="lb" text-anchor="start" fill="#111" >TNF_signaling_via_NFKB</text>
<rect x="401.40" y="156.40" width="49.40" height="6.10" fill="#9f0027" />
<rect x="400.20" y="165.20" width="50.60" height="6.10" fill="#6aa9df" />
<rect x="425.80" y="179.50" width="25.00" height="6.10" fill="#9f0027" />
<rect x="400.20" y="188.30" width="50.60" height="6.10" fill="#6aa9df" />
<rect x="365.60" y="188.30" width="29.70" height="6.10" fill="#6aa9df" />
<rect x="400.20" y="202.70" width="50.60" height="6.10" fill="#9f0027" />
<rect x="393.30" y="202.70" width="2.00" height="6.10" fill="#9f0027" />
<rect x="400.20" y="211.50" width="50.60" height="6.10" fill="#6aa9df" />
<rect x="368.20" y="211.50" width="27.10" height="6.10" fill="#6aa9df" />
<rect x="423.90" y="225.80" width="26.90" height="6.10" fill="#9f0027" />
<rect x="400.20" y="234.60" width="50.60" height="6.10" fill="#6aa9df" />
<rect x="365.20" y="234.60" width="30.10" height="6.10" fill="#6aa9df" />
<rect x="400.20" y="248.90" width="50.60" height="6.10" fill="#9f0027" />
<rect x="365.20" y="248.90" width="30.10" height="6.10" fill="#9f0027" />
<rect x="400.20" y="257.70" width="50.60" height="6.10" fill="#6aa9df" />
<rect x="365.20" y="257.70" width="30.10" height="6.10" fill="#6aa9df" />
<rect x="458.60" y="155.70" width="28.80" height="3.90" fill="#df8a10" />
<rect x="490.20" y="155.70" width="16.00" height="3.90" fill="#df8a10" />
<rect x="458.60" y="161.80" width="14.30" height="3.90" fill="#57a63a" />
<rect x="458.60" y="168.00" width="22.40" height="4.10" fill="#e6a2c8" />
<rect x="458.60" y="178.80" width="28.80" height="3.90" fill="#df8a10" />
<rect x="490.20" y="178.80" width="3.00" height="3.90" fill="#df8a10" />
<rect x="458.60" y="184.90" width="4.30" height="3.90" fill="#57a63a" />
<rect x="458.60" y="191.10" width="11.40" height="4.10" fill="#e6a2c8" />
<rect x="458.60" y="202.00" width="28.80" height="3.90" fill="#df8a10" />
<rect x="490.20" y="202.00" width="13.80" height="3.90" fill="#df8a10" />
<rect x="458.60" y="208.10" width="19.40" height="3.90" fill="#57a63a" />
<rect x="458.60" y="214.30" width="28.80" height="4.10" fill="#e6a2c8" />
<rect x="490.20" y="214.30" width="0.50" height="4.10" fill="#e6a2c8" />
<rect x="458.60" y="225.10" width="28.80" height="3.90" fill="#df8a10" />
<rect x="490.20" y="225.10" width="3.00" height="3.90" fill="#df8a10" />
<rect x="458.60" y="231.20" width="8.30" height="3.90" fill="#57a63a" />
<rect x="458.60" y="237.40" width="9.10" height="4.10" fill="#e6a2c8" />
<rect x="458.60" y="248.20" width="28.80" height="3.90" fill="#df8a10" />
<rect x="490.20" y="248.20" width="4.00" height="3.90" fill="#df8a10" />
<rect x="458.60" y="254.30" width="10.90" height="3.90" fill="#57a63a" />
<rect x="458.60" y="260.50" width="15.20" height="4.10" fill="#e6a2c8" />
<line x1="361.60" y1="268.00" x2="395.90" y2="268.00" stroke="#111" stroke-width="1.0" />
<line x1="400.20" y1="268.00" x2="450.80" y2="268.00" stroke="#111" stroke-width="1.0" />
<line x1="365.20" y1="268.00" x2="365.20" y2="270.50" stroke="#111" stroke-width="0.9" />
<line x1="372.88" y1="268.00" x2="372.88" y2="270.50" stroke="#111" stroke-width="0.9" />
<line x1="380.55" y1="268.00" x2="380.55" y2="270.50" stroke="#111" stroke-width="0.9" />
<line x1="388.22" y1="268.00" x2="388.22" y2="270.50" stroke="#111" stroke-width="0.9" />
<line x1="395.90" y1="265.50" x2="395.90" y2="270.50" stroke="#111" stroke-width="1.0" />
<line x1="400.20" y1="265.50" x2="400.20" y2="270.50" stroke="#111" stroke-width="1.0" />
<line x1="410.20" y1="268.00" x2="410.20" y2="270.50" stroke="#111" stroke-width="0.9" />
<line x1="420.20" y1="268.00" x2="420.20" y2="270.50" stroke="#111" stroke-width="0.9" />
<line x1="430.20" y1="268.00" x2="430.20" y2="270.50" stroke="#111" stroke-width="0.9" />
<line x1="440.20" y1="268.00" x2="440.20" y2="270.50" stroke="#111" stroke-width="0.9" />
<line x1="450.80" y1="152.40" x2="450.80" y2="270.80" stroke="#111" stroke-width="1.2" />
<line x1="458.20" y1="152.40" x2="458.20" y2="270.80" stroke="#111" stroke-width="1.2" />
<text transform="translate(364.90,276.80) rotate(-45)" font-size="5.1" text-anchor="middle" dy="1.84" fill="#1a1a1a" class="ax">30</text>
<text transform="translate(372.57,276.80) rotate(-45)" font-size="5.1" text-anchor="middle" dy="1.84" fill="#1a1a1a" class="ax">25</text>
<text transform="translate(380.25,276.80) rotate(-45)" font-size="5.1" text-anchor="middle" dy="1.84" fill="#1a1a1a" class="ax">20</text>
<text transform="translate(387.92,276.80) rotate(-45)" font-size="5.1" text-anchor="middle" dy="1.84" fill="#1a1a1a" class="ax">15</text>
<text transform="translate(395.60,276.80) rotate(-45)" font-size="5.1" text-anchor="middle" dy="1.84" fill="#1a1a1a" class="ax">10</text>
<text transform="translate(400.40,276.60) rotate(-45)" font-size="5.1" text-anchor="middle" dy="1.84" fill="#1a1a1a" class="ax">5</text>
<text transform="translate(410.40,276.60) rotate(-45)" font-size="5.1" text-anchor="middle" dy="1.84" fill="#1a1a1a" class="ax">4</text>
<text transform="translate(420.40,276.60) rotate(-45)" font-size="5.1" text-anchor="middle" dy="1.84" fill="#1a1a1a" class="ax">3</text>
<text transform="translate(430.40,276.60) rotate(-45)" font-size="5.1" text-anchor="middle" dy="1.84" fill="#1a1a1a" class="ax">2</text>
<text transform="translate(440.40,276.60) rotate(-45)" font-size="5.1" text-anchor="middle" dy="1.84" fill="#1a1a1a" class="ax">1</text>
<line x1="458.20" y1="267.90" x2="487.50" y2="267.90" stroke="#111" stroke-width="1.0" />
<line x1="490.10" y1="267.90" x2="510.00" y2="267.90" stroke="#111" stroke-width="1.0" />
<line x1="464.06" y1="267.90" x2="464.06" y2="270.40" stroke="#111" stroke-width="0.9" />
<line x1="469.92" y1="267.90" x2="469.92" y2="270.40" stroke="#111" stroke-width="0.9" />
<line x1="475.78" y1="267.90" x2="475.78" y2="270.40" stroke="#111" stroke-width="0.9" />
<line x1="481.64" y1="267.90" x2="481.64" y2="270.40" stroke="#111" stroke-width="0.9" />
<line x1="487.50" y1="265.40" x2="487.50" y2="270.40" stroke="#111" stroke-width="1.0" />
<line x1="490.10" y1="265.40" x2="490.10" y2="270.40" stroke="#111" stroke-width="1.0" />
<line x1="495.20" y1="267.90" x2="495.20" y2="270.40" stroke="#111" stroke-width="0.9" />
<line x1="501.60" y1="267.90" x2="501.60" y2="270.40" stroke="#111" stroke-width="0.9" />
<line x1="508.00" y1="267.90" x2="508.00" y2="270.40" stroke="#111" stroke-width="0.9" />
<text transform="translate(464.96,275.60) rotate(-45)" font-size="4.3" text-anchor="end" dy="1.55" fill="#1a1a1a" class="ax">10</text>
<text transform="translate(470.82,275.60) rotate(-45)" font-size="4.3" text-anchor="end" dy="1.55" fill="#1a1a1a" class="ax">20</text>
<text transform="translate(476.68,275.60) rotate(-45)" font-size="4.3" text-anchor="end" dy="1.55" fill="#1a1a1a" class="ax">30</text>
<text transform="translate(482.54,275.60) rotate(-45)" font-size="4.3" text-anchor="end" dy="1.55" fill="#1a1a1a" class="ax">40</text>
<text transform="translate(488.40,275.60) rotate(-45)" font-size="4.3" text-anchor="end" dy="1.55" fill="#1a1a1a" class="ax">50</text>
<text transform="translate(496.10,275.60) rotate(-45)" font-size="4.3" text-anchor="end" dy="1.55" fill="#1a1a1a" class="ax">200</text>
<text transform="translate(502.50,275.60) rotate(-45)" font-size="4.3" text-anchor="end" dy="1.55" fill="#1a1a1a" class="ax">400</text>
<text transform="translate(508.90,275.60) rotate(-45)" font-size="4.3" text-anchor="end" dy="1.55" fill="#1a1a1a" class="ax">600</text>
<line x1="455.60" y1="163.70" x2="458.20" y2="163.70" stroke="#111" stroke-width="0.85" />
<line x1="455.60" y1="186.80" x2="458.20" y2="186.80" stroke="#111" stroke-width="0.85" />
<line x1="455.60" y1="210.00" x2="458.20" y2="210.00" stroke="#111" stroke-width="0.85" />
<line x1="455.60" y1="233.10" x2="458.20" y2="233.10" stroke="#111" stroke-width="0.85" />
<line x1="455.60" y1="256.20" x2="458.20" y2="256.20" stroke="#111" stroke-width="0.85" />
<text x="268.00" y="301.90" font-size="6.2" class="lb" text-anchor="start" fill="#111" >Heme_metabolism (CP)</text>
<text x="268.00" y="322.20" font-size="6.2" class="lb" text-anchor="start" fill="#111" >KRAS signaling down (CP)</text>
<text x="268.00" y="342.60" font-size="6.2" class="lb" text-anchor="start" fill="#111" >IL6-JAK-STAT3 signaling (BP)</text>
<text x="268.00" y="363.00" font-size="6.2" class="lb" text-anchor="start" fill="#111" >Interferon gamma signaling (BP)</text>
<text x="268.00" y="383.40" font-size="6.2" class="lb" text-anchor="start" fill="#111" >IL2-STAT5 signaling (BP)</text>
<rect x="399.30" y="294.70" width="51.50" height="10.20" fill="#c0007b" />
<rect x="364.70" y="294.70" width="30.30" height="10.20" fill="#c0007b" />
<rect x="399.30" y="315.00" width="51.50" height="10.20" fill="#c0007b" />
<rect x="364.70" y="315.00" width="30.30" height="10.20" fill="#c0007b" />
<rect x="399.30" y="335.40" width="51.50" height="10.20" fill="#c0007b" />
<rect x="364.70" y="335.40" width="30.30" height="10.20" fill="#c0007b" />
<rect x="399.30" y="355.80" width="51.50" height="10.20" fill="#c0007b" />
<rect x="364.70" y="355.80" width="30.30" height="10.20" fill="#c0007b" />
<rect x="399.30" y="376.20" width="51.50" height="10.20" fill="#c0007b" />
<rect x="364.70" y="376.20" width="30.30" height="10.20" fill="#c0007b" />
<rect x="458.60" y="293.80" width="27.60" height="4.70" fill="#5c3a18" />
<rect x="458.60" y="301.10" width="27.60" height="4.80" fill="#df8a10" />
<rect x="488.80" y="301.10" width="4.00" height="4.80" fill="#df8a10" />
<rect x="458.60" y="314.10" width="15.40" height="4.70" fill="#5c3a18" />
<rect x="458.60" y="321.40" width="27.60" height="4.80" fill="#df8a10" />
<rect x="488.80" y="321.40" width="1.00" height="4.80" fill="#df8a10" />
<rect x="458.60" y="334.50" width="14.70" height="4.70" fill="#5c3a18" />
<rect x="458.60" y="341.80" width="27.60" height="4.80" fill="#df8a10" />
<rect x="488.80" y="341.80" width="1.00" height="4.80" fill="#df8a10" />
<rect x="458.60" y="354.90" width="25.10" height="4.70" fill="#5c3a18" />
<rect x="458.60" y="362.20" width="27.60" height="4.80" fill="#df8a10" />
<rect x="488.80" y="362.20" width="4.00" height="4.80" fill="#df8a10" />
<rect x="458.60" y="375.30" width="23.80" height="4.70" fill="#5c3a18" />
<rect x="458.60" y="382.60" width="27.60" height="4.80" fill="#df8a10" />
<rect x="488.80" y="382.60" width="4.00" height="4.80" fill="#df8a10" />
<rect x="488.80" y="293.80" width="0.90" height="4.70" fill="#c9b8a6" />
<line x1="361.10" y1="391.40" x2="395.00" y2="391.40" stroke="#111" stroke-width="1.0" />
<line x1="399.30" y1="391.40" x2="450.80" y2="391.40" stroke="#111" stroke-width="1.0" />
<line x1="364.70" y1="391.40" x2="364.70" y2="393.90" stroke="#111" stroke-width="0.9" />
<line x1="372.27" y1="391.40" x2="372.27" y2="393.90" stroke="#111" stroke-width="0.9" />
<line x1="379.85" y1="391.40" x2="379.85" y2="393.90" stroke="#111" stroke-width="0.9" />
<line x1="387.43" y1="391.40" x2="387.43" y2="393.90" stroke="#111" stroke-width="0.9" />
<line x1="395.00" y1="388.90" x2="395.00" y2="393.90" stroke="#111" stroke-width="1.0" />
<line x1="399.30" y1="388.90" x2="399.30" y2="393.90" stroke="#111" stroke-width="1.0" />
<line x1="409.50" y1="391.40" x2="409.50" y2="393.90" stroke="#111" stroke-width="0.9" />
<line x1="419.70" y1="391.40" x2="419.70" y2="393.90" stroke="#111" stroke-width="0.9" />
<line x1="429.90" y1="391.40" x2="429.90" y2="393.90" stroke="#111" stroke-width="0.9" />
<line x1="440.10" y1="391.40" x2="440.10" y2="393.90" stroke="#111" stroke-width="0.9" />
<line x1="450.80" y1="289.90" x2="450.80" y2="393.70" stroke="#111" stroke-width="1.2" />
<line x1="458.20" y1="289.90" x2="458.20" y2="393.70" stroke="#111" stroke-width="1.2" />
<text transform="translate(364.40,400.20) rotate(-45)" font-size="5.1" text-anchor="middle" dy="1.84" fill="#1a1a1a" class="ax">30</text>
<text transform="translate(371.97,400.20) rotate(-45)" font-size="5.1" text-anchor="middle" dy="1.84" fill="#1a1a1a" class="ax">25</text>
<text transform="translate(379.55,400.20) rotate(-45)" font-size="5.1" text-anchor="middle" dy="1.84" fill="#1a1a1a" class="ax">20</text>
<text transform="translate(387.12,400.20) rotate(-45)" font-size="5.1" text-anchor="middle" dy="1.84" fill="#1a1a1a" class="ax">15</text>
<text transform="translate(394.70,400.20) rotate(-45)" font-size="5.1" text-anchor="middle" dy="1.84" fill="#1a1a1a" class="ax">10</text>
<text transform="translate(399.50,400.00) rotate(-45)" font-size="5.1" text-anchor="middle" dy="1.84" fill="#1a1a1a" class="ax">5</text>
<text transform="translate(409.70,400.00) rotate(-45)" font-size="5.1" text-anchor="middle" dy="1.84" fill="#1a1a1a" class="ax">4</text>
<text transform="translate(419.90,400.00) rotate(-45)" font-size="5.1" text-anchor="middle" dy="1.84" fill="#1a1a1a" class="ax">3</text>
<text transform="translate(430.10,400.00) rotate(-45)" font-size="5.1" text-anchor="middle" dy="1.84" fill="#1a1a1a" class="ax">2</text>
<text transform="translate(440.30,400.00) rotate(-45)" font-size="5.1" text-anchor="middle" dy="1.84" fill="#1a1a1a" class="ax">1</text>
<line x1="458.20" y1="391.40" x2="486.50" y2="391.40" stroke="#111" stroke-width="1.0" />
<line x1="488.60" y1="391.40" x2="508.30" y2="391.40" stroke="#111" stroke-width="1.0" />
<line x1="463.86" y1="391.40" x2="463.86" y2="393.90" stroke="#111" stroke-width="0.9" />
<line x1="469.52" y1="391.40" x2="469.52" y2="393.90" stroke="#111" stroke-width="0.9" />
<line x1="475.18" y1="391.40" x2="475.18" y2="393.90" stroke="#111" stroke-width="0.9" />
<line x1="480.84" y1="391.40" x2="480.84" y2="393.90" stroke="#111" stroke-width="0.9" />
<line x1="486.50" y1="388.90" x2="486.50" y2="393.90" stroke="#111" stroke-width="1.0" />
<line x1="488.60" y1="388.90" x2="488.60" y2="393.90" stroke="#111" stroke-width="1.0" />
<line x1="493.60" y1="391.40" x2="493.60" y2="393.90" stroke="#111" stroke-width="0.9" />
<line x1="499.90" y1="391.40" x2="499.90" y2="393.90" stroke="#111" stroke-width="0.9" />
<line x1="506.20" y1="391.40" x2="506.20" y2="393.90" stroke="#111" stroke-width="0.9" />
<text transform="translate(464.76,399.10) rotate(-45)" font-size="4.3" text-anchor="end" dy="1.55" fill="#1a1a1a" class="ax">10</text>
<text transform="translate(470.42,399.10) rotate(-45)" font-size="4.3" text-anchor="end" dy="1.55" fill="#1a1a1a" class="ax">20</text>
<text transform="translate(476.08,399.10) rotate(-45)" font-size="4.3" text-anchor="end" dy="1.55" fill="#1a1a1a" class="ax">30</text>
<text transform="translate(481.74,399.10) rotate(-45)" font-size="4.3" text-anchor="end" dy="1.55" fill="#1a1a1a" class="ax">40</text>
<text transform="translate(487.40,399.10) rotate(-45)" font-size="4.3" text-anchor="end" dy="1.55" fill="#1a1a1a" class="ax">50</text>
<text transform="translate(494.50,399.10) rotate(-45)" font-size="4.3" text-anchor="end" dy="1.55" fill="#1a1a1a" class="ax">200</text>
<text transform="translate(500.80,399.10) rotate(-45)" font-size="4.3" text-anchor="end" dy="1.55" fill="#1a1a1a" class="ax">400</text>
<text transform="translate(507.10,399.10) rotate(-45)" font-size="4.3" text-anchor="end" dy="1.55" fill="#1a1a1a" class="ax">600</text>
<line x1="450.80" y1="299.80" x2="453.40" y2="299.80" stroke="#111" stroke-width="0.85" />
<line x1="455.60" y1="299.80" x2="458.20" y2="299.80" stroke="#111" stroke-width="0.85" />
<line x1="450.80" y1="320.10" x2="453.40" y2="320.10" stroke="#111" stroke-width="0.85" />
<line x1="455.60" y1="320.10" x2="458.20" y2="320.10" stroke="#111" stroke-width="0.85" />
<line x1="450.80" y1="340.50" x2="453.40" y2="340.50" stroke="#111" stroke-width="0.85" />
<line x1="455.60" y1="340.50" x2="458.20" y2="340.50" stroke="#111" stroke-width="0.85" />
<line x1="450.80" y1="360.90" x2="453.40" y2="360.90" stroke="#111" stroke-width="0.85" />
<line x1="455.60" y1="360.90" x2="458.20" y2="360.90" stroke="#111" stroke-width="0.85" />
<line x1="450.80" y1="381.30" x2="453.40" y2="381.30" stroke="#111" stroke-width="0.85" />
<line x1="455.60" y1="381.30" x2="458.20" y2="381.30" stroke="#111" stroke-width="0.85" />
<text transform="translate(385.7,417.5) scale(0.73,1)" font-size="8.3" fill="#111" stroke="#111" stroke-width="0.3">-log10(<tspan class="i">p-value</tspan>)</text>
<text transform="translate(460.6,417.5) scale(0.71,1)" font-size="8.3" fill="#111" stroke="#111" stroke-width="0.3">Number of genes</text>
<rect x="268.00" y="404.70" width="6.20" height="5.00" fill="#9f0027" />
<text x="277.00" y="409.00" font-size="5.2" class="lb" text-anchor="start" fill="#111" >CP vs. healthy</text>
<rect x="268.00" y="413.67" width="6.20" height="5.00" fill="#6aa9df" />
<text x="277.00" y="417.97" font-size="5.2" class="lb" text-anchor="start" fill="#111" >AP/BP vs. healthy</text>
<rect x="268.00" y="422.64" width="6.20" height="5.00" fill="#c0007b" />
<text x="277.00" y="426.94" font-size="5.2" class="lb" text-anchor="start" fill="#111" >AP/BP vs CP</text>
<rect x="268.00" y="431.61" width="6.20" height="5.00" fill="#df8a10" />
<text x="277.00" y="435.91" font-size="5.2" class="lb" text-anchor="start" fill="#111" >Pathway size</text>
<rect x="268.00" y="440.58" width="6.20" height="5.00" fill="#e6a2c8" />
<text x="277.00" y="444.88" font-size="5.2" class="lb" text-anchor="start" fill="#111" >Genes in CP vs. healthy</text>
<rect x="268.00" y="449.55" width="6.20" height="5.00" fill="#57a63a" />
<text x="277.00" y="453.85" font-size="5.2" class="lb" text-anchor="start" fill="#111" >Genes in AP/BP vs. healthy</text>
<rect x="268.00" y="458.52" width="6.20" height="5.00" fill="#5c3a18" />
<text x="277.00" y="462.82" font-size="5.2" class="lb" text-anchor="start" fill="#111" >Genes in AP/BP vs CP</text>
</g>
<rect x="0.5" y="0.5" width="519" height="470" fill="none" stroke="#000" stroke-width="1"/>
</svg></body></html>
